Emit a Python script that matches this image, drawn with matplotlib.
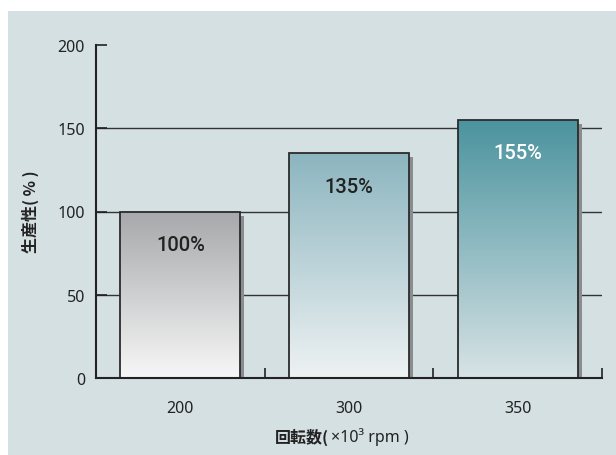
import numpy as np
import matplotlib.pyplot as plt
from matplotlib.colors import LinearSegmentedColormap
from matplotlib.patches import Rectangle

plt.rcParams['font.family'] = ['Noto Sans', 'Noto Sans CJK JP', 'DejaVu Sans']
cjk = ['Noto Sans CJK JP', 'DejaVu Sans']

speeds = ['200', '300', '350']
productivity = [100, 135, 155]
value_labels = ['100%', '135%', '155%']
top_colors = ['#a7a8ab', '#8cb5bf', '#4a939e']
bottom_colors = ['#f7f7f7', '#eef2f3', '#d8e3e6']
label_colors = ['#222222', '#222222', '#ffffff']

fig = plt.figure(figsize=(6.16, 4.56), dpi=100)
fig.patch.set_facecolor('white')
fig.patches.append(Rectangle((8 / 616, 0), 1, 1 - 12 / 456, transform=fig.transFigure,
                             facecolor='#d5e0e2', edgecolor='none', zorder=-10))

ax = fig.add_axes([96 / 616, 1 - 379 / 456, 506 / 616, 333 / 456])
ax.set_facecolor('none')

x = np.arange(len(speeds))
w = 0.71

# shadow offset: 4 px right, 4 px down
px_x = 3 / 506
px_y = 200 / 333
sx, sy = 4 * px_x, 4 * px_y

for yv in [50, 100, 150]:
    ax.axhline(yv, color='#333333', lw=1.0, zorder=1)

grad = np.linspace(0, 1, 256).reshape(-1, 1)
for i, h in enumerate(productivity):
    ax.bar(x[i] + sx, h - sy, width=w, color='#8a8d90', zorder=2)
    cmap = LinearSegmentedColormap.from_list('g%d' % i, [bottom_colors[i], top_colors[i]])
    im = ax.imshow(grad, extent=[x[i] - w / 2, x[i] + w / 2, 0, h], origin='lower',
                   aspect='auto', cmap=cmap, zorder=3)
    bar = ax.bar(x[i], h, width=w, facecolor='none', edgecolor='#2b2b2b', lw=1.3, zorder=4)
    im.set_clip_path(bar[0])
    ax.annotate(value_labels[i], (x[i], h), xytext=(0, -33), textcoords='offset pixels',
                ha='center', va='center', fontsize=14.5, fontweight='medium',
                family=['Roboto', 'DejaVu Sans'],
                color=label_colors[i], zorder=5)

ax.set_xlim(-0.5, 2.5)
ax.set_ylim(0, 200)

for s in ['top', 'right']:
    ax.spines[s].set_visible(False)
for s in ['left', 'bottom']:
    ax.spines[s].set_linewidth(1.5)
    ax.spines[s].set_color('#222222')
    ax.spines[s].set_zorder(6)

ax.set_yticks([0, 50, 100, 150, 200])
ax.tick_params(axis='y', direction='in', length=8, width=1.2, pad=8,
               labelsize=11.5, colors='#222222')
ax.set_xticks(x)
ax.set_xticklabels(speeds)
ax.tick_params(axis='x', which='major', length=0, pad=16, labelsize=11.5, colors='#222222')
ax.set_xticks([0.5, 1.5, 2.5], minor=True)
ax.tick_params(axis='x', which='minor', direction='in', length=7, width=1.2, color='#222222')

fig.text(30 / 616, 1 - 212 / 456, '生産性( % )', rotation=90, ha='center', va='center',
         fontsize=11.5, fontweight='bold', color='#222222', family=cjk)
fig.text(329 / 616, 1 - 437 / 456, '回転数(', ha='right', va='center',
         fontsize=11.5, fontweight='bold', color='#222222', family=cjk)
fig.text(331 / 616, 1 - 437 / 456, '×10³ rpm )', ha='left', va='center',
         fontsize=11.5, color='#222222')

fig.savefig('out.png', dpi=100)
